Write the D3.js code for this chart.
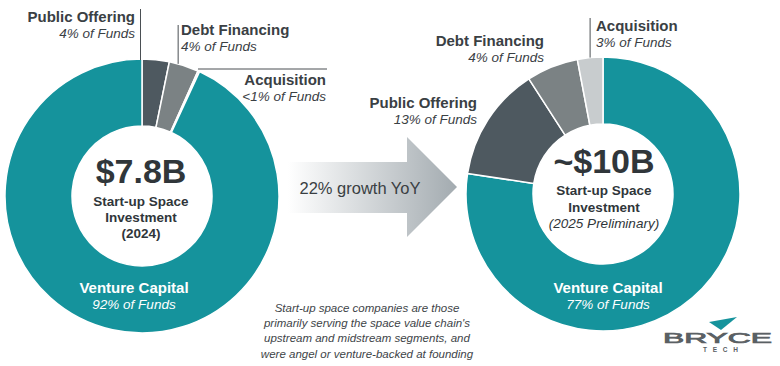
<!DOCTYPE html>
<html>
<head>
<meta charset="utf-8">
<script src="https://cdn.jsdelivr.net/npm/d3@7/dist/d3.min.js"></script>
<style>
  html, body { margin: 0; padding: 0; background: #ffffff; }
  svg { display: block; }
  text { font-family: "Liberation Sans", Arial, Helvetica, sans-serif; }
</style>
</head>
<body>
<script>
// ---------------- DATA ----------------
const categories2024 = ["Public Offering", "Debt Financing", "Acquisition", "Venture Capital"];
const values2024 = [3.2, 3.5, 0.2, 93.1];
const shares2024 = ["4% of Funds", "4% of Funds", "<1% of Funds", "92% of Funds"];

const categories2025 = ["Venture Capital", "Public Offering", "Debt Financing", "Acquisition"];
const values2025 = [77.4, 13.5, 6.1, 3.0];
const shares2025 = ["77% of Funds", "13% of Funds", "4% of Funds", "3% of Funds"];

const totals = ["$7.8B", "~$10B"];
const totalSub = [["Start-up Space", "Investment"], ["Start-up Space", "Investment"]];
const years = ["(2024)", "(2025 Preliminary)"];
const growthLabel = "22% growth YoY";
const footnote = [
  "Start-up space companies are those",
  "primarily serving the space value chain's",
  "upstream and midstream segments, and",
  "were angel or venture-backed at founding"
];

// ---------------- STYLE ----------------
const W = 780, H = 366;
const color = d3.scaleOrdinal()
  .domain(["Venture Capital", "Public Offering", "Debt Financing", "Acquisition"])
  .range(["#15939c", "#4e5960", "#7b8284", "#c8ccce"]);
const dark = "#30363a";
const labelCol = "#3a4044";
const lineCol = "#4a4f53";

const svg = d3.select("body").append("svg").attr("width", W).attr("height", H);

const R = 137, r0 = 70;
const pie = d3.pie().sort(null).value(d => d.v).startAngle(0).endAngle(2 * Math.PI);
const arc = d3.arc().innerRadius(r0).outerRadius(R);

function drawDonut(cx, cy, cats, vals) {
  const g = svg.append("g").attr("transform", `translate(${cx},${cy})`);
  const arcs = pie(cats.map((c, i) => ({ c, v: vals[i] })));
  g.selectAll("path").data(arcs).join("path")
    .attr("d", arc)
    .attr("fill", d => color(d.data.c))
    .attr("stroke", "#ffffff")
    .attr("stroke-width", 1.5)
    .attr("stroke-linejoin", "round");
  return { g, arcs };
}

function label(x, y, title, sub, anchor, fill) {
  const f = fill || labelCol;
  svg.append("text").attr("x", x).attr("y", y).attr("text-anchor", anchor)
    .attr("font-size", 15).attr("font-weight", "bold").attr("fill", f).text(title);
  svg.append("text").attr("x", x).attr("y", y + 15.5).attr("text-anchor", anchor)
    .attr("font-size", 13.5).attr("font-style", "italic").attr("fill", f).text(sub);
}

function line(x1, y1, x2, y2) {
  svg.append("line").attr("x1", x1).attr("y1", y1).attr("x2", x2).attr("y2", y2)
    .attr("stroke", lineCol).attr("stroke-width", 1);
}

// ---------------- ARROW ----------------
const defs = svg.append("defs");
const grad = defs.append("linearGradient").attr("id", "arrowGrad")
  .attr("gradientUnits", "userSpaceOnUse").attr("x1", 288).attr("y1", 0).attr("x2", 457).attr("y2", 0);
grad.append("stop").attr("offset", "0%").attr("stop-color", "#ffffff");
grad.append("stop").attr("offset", "100%").attr("stop-color", "#a3abb0");

svg.append("path")
  .attr("d", "M288,162 L407,162 L407,137 L457,187 L407,237 L407,213 L288,213 Z")
  .attr("fill", "url(#arrowGrad)");
svg.append("text").attr("x", 360).attr("y", 194).attr("text-anchor", "middle")
  .attr("font-size", 16.5).attr("fill", "#3a3f43").text(growthLabel);

// ---------------- LEFT DONUT (2024) ----------------
const L = { cx: 142, cy: 196 };
const left = drawDonut(L.cx, L.cy, categories2024, values2024);

const poStart = left.arcs[0].startAngle;
line(L.cx + R * Math.sin(poStart) - 1.5, 9, L.cx + R * Math.sin(poStart) - 1.5, L.cy - R * Math.cos(poStart) + 1);
const dfA = left.arcs[1].startAngle + (left.arcs[1].endAngle - left.arcs[1].startAngle) * 0.3;
line(L.cx + R * Math.sin(dfA), 25, L.cx + R * Math.sin(dfA), L.cy - R * Math.cos(dfA));
const acA = left.arcs[2].startAngle;
line(L.cx + R * Math.sin(acA), 69, 327, 69);

label(135, 22, categories2024[0], shares2024[0], "end");
label(181, 35, categories2024[1], shares2024[1], "start");
label(326, 85, categories2024[2], shares2024[2], "end");
label(134, 293, categories2024[3], shares2024[3], "middle", "#ffffff");

svg.append("text").attr("x", 141).attr("y", 183).attr("text-anchor", "middle")
  .attr("font-size", 34).attr("font-weight", "bold").attr("fill", dark).text(totals[0]);
totalSub[0].forEach((t, i) => {
  svg.append("text").attr("x", 141).attr("y", 206 + i * 16).attr("text-anchor", "middle")
    .attr("font-size", 13.5).attr("font-weight", "bold").attr("fill", dark).text(t);
});
svg.append("text").attr("x", 141).attr("y", 238).attr("text-anchor", "middle")
  .attr("font-size", 13.5).attr("font-weight", "bold").attr("fill", dark).text(years[0]);

// ---------------- RIGHT DONUT (2025) ----------------
const Rt = { cx: 603, cy: 194 };
const right = drawDonut(Rt.cx, Rt.cy, categories2025, values2025);

const acq = right.arcs[3];
const acqMid = (acq.startAngle + acq.endAngle) / 2;
line(Rt.cx + R * Math.sin(acqMid), 18, Rt.cx + R * Math.sin(acqMid), Rt.cy - R * Math.cos(acqMid));

label(596, 31, categories2025[3], shares2025[3], "start");
label(544, 46, categories2025[2], shares2025[2], "end");
label(477, 108, categories2025[1], shares2025[1], "end");
label(608, 293, categories2025[0], shares2025[0], "middle", "#ffffff");

svg.append("text").attr("x", 604).attr("y", 173).attr("text-anchor", "middle")
  .attr("font-size", 34).attr("font-weight", "bold").attr("fill", dark).text(totals[1]);
totalSub[1].forEach((t, i) => {
  svg.append("text").attr("x", 604).attr("y", 195 + i * 16.5).attr("text-anchor", "middle")
    .attr("font-size", 13.5).attr("font-weight", "bold").attr("fill", dark).text(t);
});
svg.append("text").attr("x", 604).attr("y", 228).attr("text-anchor", "middle")
  .attr("font-size", 13.5).attr("font-style", "italic").attr("fill", dark).text(years[1]);

// ---------------- FOOTNOTE ----------------
footnote.forEach((t, i) => {
  svg.append("text").attr("x", 367).attr("y", 312 + i * 15.2).attr("text-anchor", "middle")
    .attr("font-size", 11.5).attr("font-style", "italic").attr("fill", "#3e4448").text(t);
});

// ---------------- LOGO ----------------
svg.append("path").attr("d", "M709,322 L737,317 L721,330 Z").attr("fill", "#15939c");
svg.append("text").attr("x", 663).attr("y", 343)
  .attr("font-size", 14).attr("fill", "#5a6064").attr("stroke", "#5a6064").attr("stroke-width", 0.7)
  .attr("textLength", 109).attr("lengthAdjust", "spacingAndGlyphs").text("BRYCE");
svg.append("text").attr("x", 703).attr("y", 352)
  .attr("font-size", 6.5).attr("font-weight", "bold").attr("fill", "#5a6064")
  .attr("textLength", 35).attr("lengthAdjust", "spacing").text("TECH");
</script>
</body>
</html>
